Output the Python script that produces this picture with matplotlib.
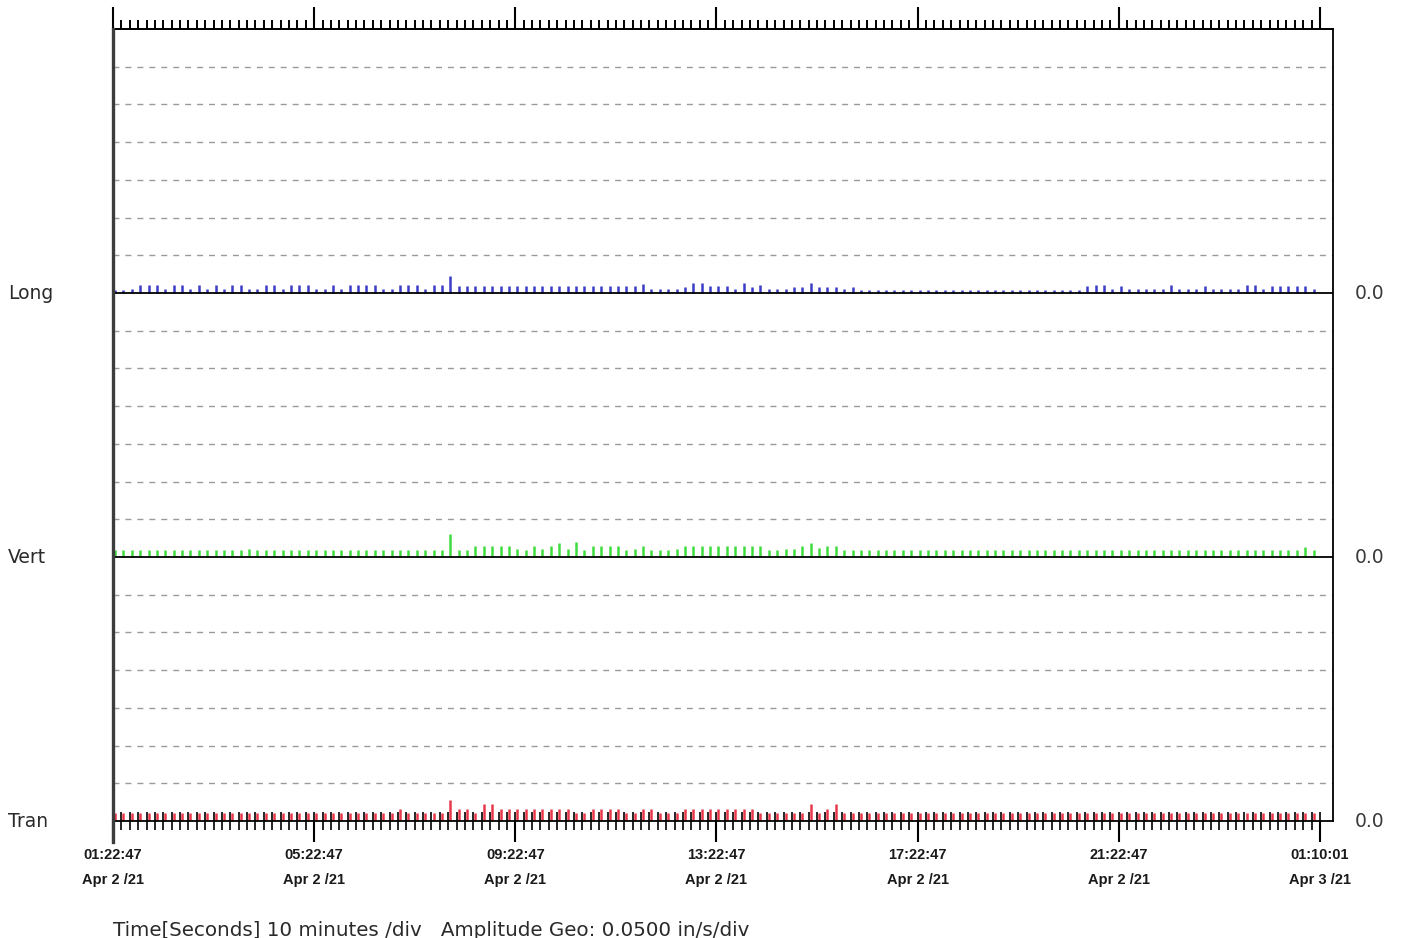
import matplotlib
matplotlib.use("Agg")
from matplotlib import pyplot as plt
from matplotlib import transforms
from matplotlib.ticker import FixedLocator
import numpy as np

channels = ["Long", "Vert", "Tran"]
channel_colors = ["#3b3bc6", "#3fdc3f", "#e8384c"]
label_hours = [0, 4, 8, 12, 16, 20, 24]
time_labels = ["01:22:47", "05:22:47", "09:22:47", "13:22:47",
               "17:22:47", "21:22:47", "01:10:01"]
date_labels = ["Apr 2 /21", "Apr 2 /21", "Apr 2 /21", "Apr 2 /21",
               "Apr 2 /21", "Apr 2 /21", "Apr 3 /21"]
caption = "Time[Seconds] 10 minutes /div   Amplitude Geo: 0.0500 in/s/div"

# peak amplitude per 10 minute interval, in/s
long_amp = [
    0.004, 0.004, 0.005, 0.011, 0.011, 0.011, 0.005, 0.011, 0.011, 0.005, 0.011, 0.005,
    0.011, 0.005, 0.011, 0.011, 0.005, 0.005, 0.011, 0.011, 0.005, 0.011, 0.011, 0.011,
    0.005, 0.005, 0.011, 0.005, 0.011, 0.011, 0.011, 0.011, 0.005, 0.005, 0.011, 0.011,
    0.011, 0.005, 0.011, 0.011, 0.022, 0.009, 0.009, 0.009, 0.009, 0.009, 0.009, 0.009,
    0.009, 0.009, 0.009, 0.009, 0.009, 0.009, 0.009, 0.009, 0.009, 0.009, 0.009, 0.009,
    0.009, 0.009, 0.009, 0.012, 0.005, 0.005, 0.005, 0.005, 0.008, 0.013, 0.013, 0.009,
    0.009, 0.009, 0.005, 0.013, 0.008, 0.011, 0.005, 0.005, 0.005, 0.008, 0.008, 0.013,
    0.008, 0.008, 0.008, 0.005, 0.008, 0.004, 0.004, 0.004, 0.004, 0.004, 0.004, 0.004,
    0.004, 0.004, 0.004, 0.004, 0.004, 0.004, 0.004, 0.004, 0.004, 0.004, 0.004, 0.004,
    0.004, 0.004, 0.004, 0.004, 0.004, 0.004, 0.004, 0.004, 0.009, 0.010, 0.010, 0.005,
    0.009, 0.005, 0.005, 0.005, 0.005, 0.005, 0.010, 0.005, 0.005, 0.005, 0.009, 0.005,
    0.005, 0.005, 0.005, 0.010, 0.010, 0.005, 0.009, 0.009, 0.009, 0.009, 0.009, 0.005,
]
vert_amp = [
    0.009, 0.009, 0.009, 0.009, 0.009, 0.009, 0.009, 0.009, 0.009, 0.009, 0.009, 0.009,
    0.009, 0.009, 0.009, 0.009, 0.011, 0.009, 0.009, 0.009, 0.009, 0.009, 0.009, 0.009,
    0.009, 0.009, 0.009, 0.009, 0.009, 0.009, 0.009, 0.009, 0.009, 0.009, 0.009, 0.009,
    0.009, 0.009, 0.009, 0.009, 0.030, 0.009, 0.009, 0.014, 0.014, 0.014, 0.014, 0.014,
    0.0105, 0.009, 0.014, 0.0105, 0.014, 0.0185, 0.0105, 0.020, 0.009, 0.014, 0.014, 0.014,
    0.014, 0.009, 0.0105, 0.014, 0.009, 0.009, 0.009, 0.0105, 0.014, 0.014, 0.014, 0.014,
    0.014, 0.014, 0.015, 0.015, 0.014, 0.014, 0.009, 0.009, 0.0105, 0.0105, 0.014, 0.0185,
    0.012, 0.014, 0.014, 0.009, 0.009, 0.009, 0.009, 0.009, 0.009, 0.009, 0.009, 0.009,
    0.009, 0.009, 0.009, 0.009, 0.009, 0.009, 0.009, 0.009, 0.009, 0.009, 0.009, 0.009,
    0.009, 0.009, 0.009, 0.009, 0.009, 0.009, 0.009, 0.009, 0.009, 0.009, 0.009, 0.009,
    0.009, 0.009, 0.009, 0.009, 0.009, 0.009, 0.009, 0.009, 0.009, 0.009, 0.009, 0.009,
    0.009, 0.009, 0.009, 0.009, 0.009, 0.009, 0.009, 0.009, 0.009, 0.009, 0.013, 0.009,
]
tran_amp = [
    0.011, 0.011, 0.011, 0.011, 0.011, 0.011, 0.011, 0.011, 0.011, 0.011, 0.011, 0.011,
    0.011, 0.011, 0.011, 0.011, 0.011, 0.011, 0.011, 0.011, 0.011, 0.011, 0.011, 0.011,
    0.011, 0.011, 0.011, 0.011, 0.011, 0.011, 0.011, 0.011, 0.011, 0.011, 0.016, 0.011,
    0.011, 0.011, 0.011, 0.011, 0.0275, 0.016, 0.016, 0.011, 0.022, 0.022, 0.016, 0.016,
    0.016, 0.016, 0.016, 0.016, 0.016, 0.016, 0.016, 0.011, 0.011, 0.016, 0.016, 0.016,
    0.016, 0.011, 0.011, 0.016, 0.016, 0.011, 0.011, 0.011, 0.016, 0.016, 0.016, 0.016,
    0.016, 0.016, 0.016, 0.016, 0.016, 0.011, 0.011, 0.011, 0.011, 0.011, 0.011, 0.022,
    0.011, 0.016, 0.022, 0.011, 0.011, 0.011, 0.011, 0.011, 0.011, 0.011, 0.011, 0.011,
    0.011, 0.011, 0.011, 0.011, 0.011, 0.011, 0.011, 0.011, 0.011, 0.011, 0.011, 0.011,
    0.011, 0.011, 0.011, 0.011, 0.011, 0.011, 0.011, 0.011, 0.011, 0.011, 0.011, 0.011,
    0.011, 0.011, 0.011, 0.011, 0.011, 0.011, 0.011, 0.011, 0.011, 0.011, 0.011, 0.011,
    0.011, 0.011, 0.011, 0.011, 0.011, 0.011, 0.011, 0.011, 0.011, 0.011, 0.011, 0.011,
]

div_amp = 0.05        # in/s per division
divs_per_channel = 7
step_h = 1 / 6        # 10 minutes

fig = plt.figure(figsize=(14.02, 9.38), dpi=100)
fig.patch.set_facecolor("white")
W, H = 1402, 938
ax = fig.add_axes([113 / W, 1 - 821 / H, (1333 - 113) / W, (821 - 29) / H])
ax.set_xlim(0, 24.26)
ax.set_ylim(0, 3 * divs_per_channel)

# grid
for y in range(1, 3 * divs_per_channel):
    if y % divs_per_channel:
        ax.axhline(y, color="#9a9a9a", lw=1.0, dashes=(4.3, 4.3), zorder=1)
    else:
        ax.axhline(y, color="black", lw=1.3, zorder=3)

# bars
for k, amp in enumerate([long_amp, vert_amp, tran_amp]):
    base = (2 - k) * divs_per_channel
    t = np.arange(len(amp)) * step_h + 0.04
    ax.vlines(t, base, base + np.array(amp) / div_amp,
              color=channel_colors[k], lw=1.8, zorder=2)

for side in ["top", "right", "bottom"]:
    ax.spines[side].set_color("black")
    ax.spines[side].set_linewidth(1.3)
ax.spines["left"].set_visible(False)
ax.plot([0, 0], [-0.0265, 1], transform=ax.transAxes, color="#3c3c3c",
        lw=2.4, clip_on=False, zorder=4)

minor_pos = np.arange(0, 145) * step_h
ax.set_yticks([])
ax.set_xticks(label_hours)
ax.xaxis.set_minor_locator(FixedLocator(minor_pos))
ax.xaxis.remove_overlapping_locs = False
ax.tick_params(axis="x", which="minor", direction="inout", length=13.5,
               width=1.2, color="black")
ax.tick_params(axis="x", which="major", direction="out", length=15,
               width=1.5, color="black", labelbottom=False)

sec = ax.secondary_xaxis("top")
sec.set_xticks(label_hours)
sec.xaxis.set_minor_locator(FixedLocator(minor_pos))
sec.tick_params(which="major", direction="out", length=15.5, width=1.5,
                labeltop=False)
sec.tick_params(which="minor", direction="out", length=6.5, width=1.4)
sec.spines["top"].set_linewidth(1.3)

# channel labels
trans_y = transforms.blended_transform_factory(fig.transFigure, ax.transData)
for k, name in enumerate(channels):
    base = (2 - k) * divs_per_channel
    ax.text(8 / W, base, name, transform=trans_y, ha="left", va="center",
            fontsize=13.5, color="#2a2a2a", family="DejaVu Sans")
    ax.text(1355 / W, base, "0.0", transform=trans_y, ha="left", va="center",
            fontsize=13.5, color="#3a3a3a", family="DejaVu Sans")

# time axis labels
trans_x = transforms.blended_transform_factory(ax.transData, fig.transFigure)
narrow = ["Liberation Sans Narrow", "Liberation Sans", "DejaVu Sans"]
for h, tl, dl in zip(label_hours, time_labels, date_labels):
    ax.text(h, 1 - 855 / H, tl, transform=trans_x, ha="center", va="center",
            fontsize=10.5, fontweight="bold", family=narrow, color="#1a1a1a")
    ax.text(h, 1 - 880 / H, dl, transform=trans_x, ha="center", va="center",
            fontsize=10.5, fontweight="bold", family=narrow, color="#1a1a1a")

fig.text(113 / W, 1 - 936 / H, caption, ha="left", va="baseline",
         fontsize=14.3, color="#2a2a2a", family="DejaVu Sans")

fig.savefig("out.png", dpi=100)
